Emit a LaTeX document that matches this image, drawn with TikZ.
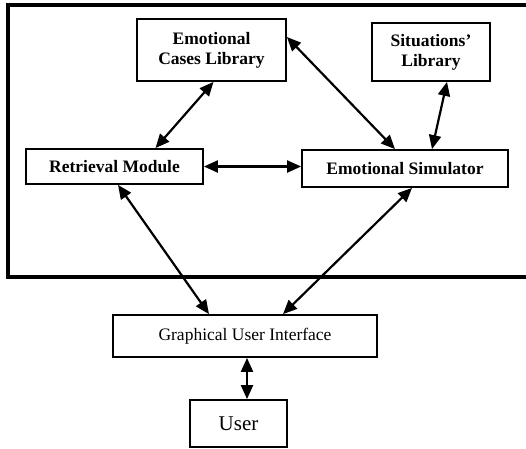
\documentclass[tikz,border=0pt]{standalone}
\usepackage{fontspec}
\setmainfont{Liberation Serif}
\usetikzlibrary{arrows.meta}
\tikzset{
  block/.style={draw, line width=1.8pt, inner sep=0, align=center,
    font=\fontsize{17.5}{20}\selectfont\bfseries},
  link/.style={line width=2.2pt,
    {Triangle[length=14pt,width=12pt]}-{Triangle[length=14pt,width=12pt]}},
}
\begin{document}
\begin{tikzpicture}[x=1pt, y=-1pt]
      \useasboundingbox (0,0) rectangle (526,448);
      % FRAME
      \draw[line width=4pt] (530,5) -- (8,5) -- (8,277) -- (530,277);
      % BOXES
      \node[block, minimum width=149pt, minimum height=62pt] (ecl) at (211.5,50) {Emotional\\Cases Library};
      \node[block, minimum width=118pt, minimum height=58pt] (sl) at (431,52) {Situations'\\Library};
      \node[block, minimum width=177pt, minimum height=35pt] (rm) at (114.5,166.5) {Retrieval Module};
      \node[block, minimum width=206pt, minimum height=37pt] (es) at (405,168.5) {Emotional Simulator};
      \node[block, minimum width=264pt, minimum height=42pt, font=\fontsize{17.5}{20}\selectfont] (gui) at (245,336) {Graphical User Interface};
      \node[block, minimum width=97pt, minimum height=47pt, font=\fontsize{21}{24}\selectfont] (user) at (238.5,423.5) {User};
      % LINKS
      \draw[link] ([xshift=2pt]ecl.south) -- ([xshift=41pt]rm.north);
      \draw[link] ([yshift=13pt]ecl.east) -- ([xshift=-10pt]es.north);
      \draw[link] ([xshift=16pt]sl.south) -- ([xshift=27pt]es.north);
      \draw[link] (rm.east) -- (rm.east -| es.west);
      \draw[link] ([xshift=3.5pt]rm.south) -- ([xshift=-36pt]gui.north);
      \draw[link] ([xshift=7pt]es.south) -- ([xshift=38pt]gui.north);
      \draw[link] ([xshift=2pt]gui.south) -- ([xshift=2pt]gui.south |- user.north);
\end{tikzpicture}
\end{document}
